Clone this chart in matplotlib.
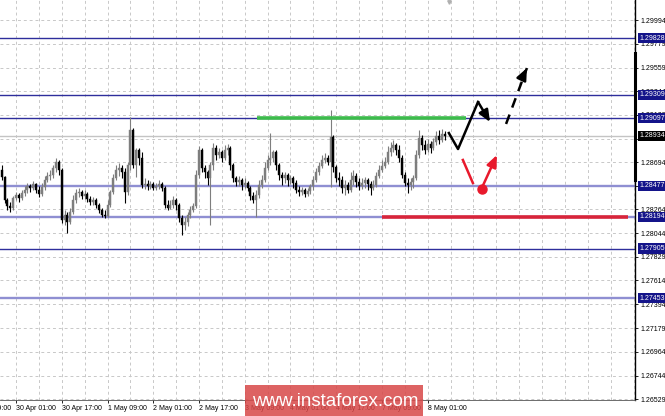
import matplotlib
matplotlib.use("Agg")
import matplotlib.pyplot as plt
from matplotlib.patches import Rectangle

plt.rcParams['font.family'] = ['Liberation Sans', 'DejaVu Sans']

# H1 candles, bar 0 = 30 Apr 01:00
first_bar = -5
first_open = 1.28623
close = [
  1.28559, 1.28349, 1.28294, 1.28276, 1.28367,
  1.28395, 1.28367, 1.28413, 1.28440, 1.28477, 1.28459, 1.28495, 1.28440, 1.28404, 1.28468,
  1.28532, 1.28568, 1.28577, 1.28641, 1.28696, 1.28623, 1.28166, 1.28212, 1.28148, 1.28239,
  1.28349, 1.28413, 1.28422, 1.28386, 1.28404, 1.28358, 1.28331, 1.28349, 1.28303, 1.28258,
  1.28212, 1.28203, 1.28303, 1.28422, 1.28550, 1.28623, 1.28641, 1.28605, 1.28422, 1.28669,
  1.28989, 1.28669, 1.28806, 1.28733, 1.28486, 1.28495, 1.28477, 1.28495, 1.28459, 1.28477,
  1.28495, 1.28459, 1.28303, 1.28276, 1.28303, 1.28349, 1.28303, 1.28184, 1.28120, 1.28148,
  1.28212, 1.28258, 1.28294, 1.28577, 1.28806, 1.28641, 1.28605, 1.28550, 1.28669, 1.28824,
  1.28760, 1.28788, 1.28733, 1.28806, 1.28824, 1.28669, 1.28550, 1.28514, 1.28532, 1.28486,
  1.28504, 1.28459, 1.28386, 1.28349, 1.28395, 1.28486, 1.28532, 1.28641, 1.28715, 1.28733,
  1.28788, 1.28669, 1.28577, 1.28550, 1.28577, 1.28532, 1.28550, 1.28504, 1.28440, 1.28422,
  1.28440, 1.28404, 1.28431, 1.28477, 1.28532, 1.28605, 1.28660, 1.28715, 1.28733, 1.28696,
  1.28925, 1.28651, 1.28550, 1.28532, 1.28459, 1.28486, 1.28440, 1.28532, 1.28568, 1.28514,
  1.28477, 1.28504, 1.28532, 1.28495, 1.28459, 1.28486, 1.28568, 1.28623, 1.28660, 1.28696,
  1.28788, 1.28824, 1.28852, 1.28806, 1.28733, 1.28577, 1.28504, 1.28486, 1.28514, 1.28550,
  1.28760, 1.28916, 1.28852, 1.28806, 1.28861, 1.28824, 1.28879, 1.28934, 1.28897, 1.28952,
  1.28934]
high = [
  1.28669, 1.28568, 1.28367, 1.28331, 1.28386,
  1.28422, 1.28413, 1.28440, 1.28477, 1.28504, 1.28495, 1.28523, 1.28504, 1.28477, 1.28504,
  1.28568, 1.28605, 1.28623, 1.28669, 1.28733, 1.28715, 1.28641, 1.28258, 1.28239, 1.28276,
  1.28395, 1.28450, 1.28459, 1.28440, 1.28440, 1.28422, 1.28386, 1.28376, 1.28367, 1.28322,
  1.28276, 1.28258, 1.28349, 1.28440, 1.28587, 1.28669, 1.28687, 1.28669, 1.28641, 1.28696,
  1.29108, 1.29007, 1.28824, 1.28824, 1.28788, 1.28550, 1.28532, 1.28523, 1.28514, 1.28504,
  1.28532, 1.28514, 1.28477, 1.28349, 1.28349, 1.28386, 1.28367, 1.28322, 1.28212, 1.28194,
  1.28239, 1.28294, 1.28322, 1.28623, 1.28843, 1.28824, 1.28669, 1.28623, 1.28696, 1.28870,
  1.28852, 1.28824, 1.28806, 1.28852, 1.28861, 1.28843, 1.28687, 1.28568, 1.28568, 1.28550,
  1.28550, 1.28523, 1.28477, 1.28422, 1.28440, 1.28532, 1.28577, 1.28696, 1.28760, 1.28961,
  1.28806, 1.28806, 1.28687, 1.28605, 1.28605, 1.28596, 1.28577, 1.28568, 1.28532, 1.28477,
  1.28468, 1.28459, 1.28459, 1.28495, 1.28568, 1.28641, 1.28696, 1.28760, 1.28779, 1.28760,
  1.29172, 1.28943, 1.28669, 1.28605, 1.28568, 1.28532, 1.28514, 1.28605, 1.28623, 1.28596,
  1.28550, 1.28550, 1.28559, 1.28550, 1.28523, 1.28532, 1.28605, 1.28669, 1.28715, 1.28742,
  1.28843, 1.28879, 1.28897, 1.28870, 1.28852, 1.28760, 1.28605, 1.28550, 1.28550, 1.28577,
  1.28806, 1.28989, 1.28943, 1.28897, 1.28907, 1.28888, 1.28916, 1.28980, 1.28989, 1.28998,
  1.28980]
low = [
  1.28532, 1.28322, 1.28258, 1.28239, 1.28258,
  1.28349, 1.28331, 1.28349, 1.28386, 1.28413, 1.28422, 1.28440, 1.28413, 1.28376, 1.28386,
  1.28440, 1.28514, 1.28532, 1.28550, 1.28605, 1.28577, 1.28139, 1.28120, 1.28047, 1.28130,
  1.28221, 1.28322, 1.28376, 1.28358, 1.28358, 1.28331, 1.28303, 1.28303, 1.28276, 1.28230,
  1.28194, 1.28184, 1.28194, 1.28285, 1.28404, 1.28532, 1.28568, 1.28550, 1.28322, 1.28395,
  1.28623, 1.28641, 1.28559, 1.28669, 1.28459, 1.28450, 1.28440, 1.28450, 1.28440, 1.28440,
  1.28450, 1.28431, 1.28276, 1.28258, 1.28267, 1.28276, 1.28258, 1.28148, 1.28029, 1.28075,
  1.28111, 1.28184, 1.28239, 1.28276, 1.28550, 1.28605, 1.28550, 1.28486, 1.28120, 1.28623,
  1.28715, 1.28733, 1.28696, 1.28715, 1.28760, 1.28623, 1.28514, 1.28477, 1.28477, 1.28440,
  1.28459, 1.28431, 1.28349, 1.28322, 1.28194, 1.28367, 1.28459, 1.28514, 1.28623, 1.28669,
  1.28696, 1.28623, 1.28532, 1.28486, 1.28504, 1.28477, 1.28495, 1.28459, 1.28413, 1.28386,
  1.28395, 1.28376, 1.28386, 1.28404, 1.28440, 1.28514, 1.28577, 1.28641, 1.28687, 1.28669,
  1.28468, 1.28605, 1.28514, 1.28477, 1.28413, 1.28395, 1.28413, 1.28422, 1.28486, 1.28468,
  1.28440, 1.28450, 1.28459, 1.28440, 1.28395, 1.28440, 1.28468, 1.28550, 1.28605, 1.28641,
  1.28678, 1.28751, 1.28788, 1.28760, 1.28696, 1.28550, 1.28477, 1.28413, 1.28440, 1.28459,
  1.28532, 1.28733, 1.28806, 1.28769, 1.28788, 1.28779, 1.28806, 1.28852, 1.28861, 1.28879,
  1.28897]

tick_bars = [0, 16, 32, 48, 64, 80, 96, 112, 128, 144]
tick_labels = ['30 Apr 01:00', '30 Apr 17:00', '1 May 09:00', '2 May 01:00', '2 May 17:00',
               '3 May 09:00', '4 May 01:00', '4 May 17:00', '7 May 09:00', '8 May 01:00']
prev_label = '29 Apr 09:00'
prev_label_bar = -16

price_ticks = [1.29994, 1.29779, 1.29559, 1.29344, 1.29129, 1.28909, 1.28694, 1.28479, 1.28264,
               1.28044, 1.27829, 1.27614, 1.27394, 1.27179, 1.26964, 1.26744, 1.26529]
levels_dark = [1.29828, 1.29309, 1.29097, 1.27905]
levels_light = [1.28477, 1.28194, 1.27453]
last_price = 1.28934

# scenario marks
green_bars = [84.3, 157.4]
green_price = 1.29097
red_bars = [128, 214]
red_price = 1.28194
up_path_bars = [151.4, 154.6, 161.6, 165.8]
up_path_prices = [1.28961, 1.28815, 1.29245, 1.29062]
up_dash_bars = [171.4, 178.7]
up_dash_prices = [1.29044, 1.29555]
dn_line_bars = [156.3, 159.8]
dn_line_prices = [1.28715, 1.28504]
dn_dot = (163.0, 1.28450)
dn_arrow_bars = [163.4, 168.2]
dn_arrow_prices = [1.28486, 1.28760]

bars = list(range(first_bar, first_bar + len(close)))
opens = [first_open] + close[:-1]

fig = plt.figure(figsize=(6.65, 4.16), dpi=100)
ax = fig.add_axes([0, 16 / 416, 635 / 665, 400 / 416])
ax.set_xlim(-5.6, 216.5)
ax.set_ylim(1.26521, 1.30177)
ax.set_axisbelow(True)

# grid
ax.set_xticks(range(0, 217, 8), minor=True)
grid_kw = dict(color='#c8c8c8', lw=0.7, ls=(0, (3, 3)))
ax.grid(which='both', axis='x', **grid_kw)
ax.grid(which='major', axis='y', **grid_kw)

# levels
for p in levels_dark:
  ax.axhline(p, color='#2e2e9c', lw=1.0, zorder=1)
for p in levels_light:
  ax.axhline(p, color='#8f8fd2', lw=1.7, zorder=1)
ax.axhline(last_price, color='#c4c4c4', lw=1.0, zorder=1)

# candles
cols = ['#7e7e7e' if c >= o else '#000000' for o, c in zip(opens, close)]
ax.vlines(bars, low, high, colors=cols, lw=0.8, zorder=3)
bottoms = [min(o, c) for o, c in zip(opens, close)]
heights = [max(abs(c - o), 0.00002) for o, c in zip(opens, close)]
ax.bar(bars, heights, bottom=bottoms, width=0.7, color=cols, edgecolor=cols, lw=0.3, zorder=4)

ax.plot(green_bars, [green_price] * 2, color='#3dbb4c', lw=2.6, solid_capstyle='butt', zorder=5)
ax.plot(red_bars, [red_price] * 2, color='#d8243a', lw=2.6, solid_capstyle='butt', zorder=5)

# black scenario
ax.plot(up_path_bars[:3], up_path_prices[:3], color='black', lw=1.8, zorder=6)
ax.annotate('', xy=(up_path_bars[3], up_path_prices[3]), xytext=(up_path_bars[2], up_path_prices[2]),
            arrowprops=dict(arrowstyle='-|>,head_length=0.7,head_width=0.3', color='black', lw=1.8,
                            shrinkA=0, shrinkB=0), zorder=6)
ax.plot(up_dash_bars, up_dash_prices, color='black', lw=1.8, ls=(0, (4, 3)), zorder=6)
ax.annotate('', xy=(up_dash_bars[1], up_dash_prices[1]),
            xytext=(up_dash_bars[1] - 1.2, up_dash_prices[1] - 0.00065),
            arrowprops=dict(arrowstyle='-|>,head_length=0.7,head_width=0.3', color='black', lw=1.8,
                            shrinkA=0, shrinkB=0), zorder=6)

# red scenario
ax.plot(dn_line_bars, dn_line_prices, color='#e8192c', lw=1.8, zorder=6)
ax.plot(*dn_dot, marker='o', ms=6.5, color='#e8192c', zorder=6)
ax.annotate('', xy=(dn_arrow_bars[1], dn_arrow_prices[1]), xytext=(dn_arrow_bars[0], dn_arrow_prices[0]),
            arrowprops=dict(arrowstyle='-|>,head_length=0.7,head_width=0.3', color='#e8192c', lw=1.8,
                            shrinkA=0, shrinkB=0), zorder=6)

# axes
for s in ['top', 'left']:
  ax.spines[s].set_visible(False)
ax.spines['right'].set_linewidth(1.0)
ax.spines['bottom'].set_linewidth(0.6)
ax.spines['bottom'].set_color('#555555')
ax.plot([1.0, 1.0], [1.29692, 1.28532], transform=ax.get_yaxis_transform(), color='black',
        lw=2.2, clip_on=False, zorder=7)

ax.yaxis.tick_right()
ax.set_yticks(price_ticks)
ax.set_yticklabels(['%.5f' % p for p in price_ticks])
ax.tick_params(axis='y', length=2.5, width=0.6, labelsize=5, pad=1.5)
ax.set_xticks(tick_bars)
ax.set_xticklabels(tick_labels)
ax.tick_params(axis='x', which='major', length=2.5, width=0.6, labelsize=5, pad=1)
ax.tick_params(axis='x', which='minor', length=0)
for t in ax.get_xticklabels():
  t.set_ha('left')
ax.annotate(prev_label, xy=(prev_label_bar, 0), xycoords=ax.get_xaxis_transform(),
            xytext=(0.5, -3.5), textcoords='offset points', ha='left', va='top', fontsize=5,
            annotation_clip=False)

# boxed price labels
for p, fc in [(v, '#14148a') for v in levels_dark + levels_light] + [(last_price, '#000000')]:
  ax.text(1.007, p, '%.5f' % p, transform=ax.get_yaxis_transform(), ha='left', va='center',
          fontsize=5, color='white', clip_on=False, zorder=8,
          bbox=dict(boxstyle='square,pad=0.25', fc=fc, ec='none'))

# shift marker
ax.plot(151.5, 0.996, marker='v', ms=2.5, color='#b0b0b0', transform=ax.get_xaxis_transform(),
        clip_on=False)

# watermark
fig.patches.append(Rectangle((245 / 665, 0), 178 / 665, 31 / 416, transform=fig.transFigure,
                             fc='#d84848', ec='none', alpha=0.85, zorder=10))
fig.text(335 / 665, 15 / 416, 'www.instaforex.com', ha='center', va='center', color='white',
         fontsize=13.5, zorder=11)

plt.savefig('out.png', dpi=100)
